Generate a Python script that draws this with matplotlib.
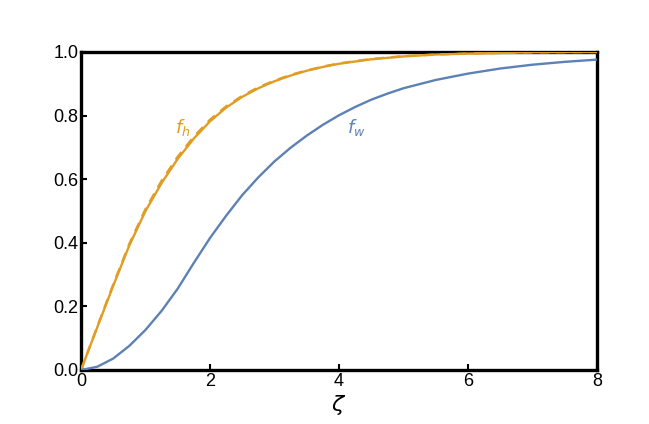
import matplotlib
matplotlib.use("Agg")
import matplotlib.pyplot as plt

# values
zeta_h = [0, 0.25, 0.5, 0.75, 1.0, 1.25, 1.5, 1.75, 2.0, 2.25, 2.5, 2.75, 3.0,
          3.25, 3.5, 3.75, 4.0, 4.5, 5.0, 5.5, 6.0, 7.0, 8.0]
f_h = [0, 0.133, 0.265, 0.392, 0.5, 0.588, 0.664, 0.728, 0.782, 0.825, 0.859, 0.886,
       0.908, 0.926, 0.941, 0.953, 0.963, 0.977, 0.986, 0.992, 0.995, 0.999, 1.0]
f_h_approx = [0, 0.135, 0.269, 0.397, 0.506, 0.595, 0.671, 0.734, 0.787, 0.829, 0.862,
              0.889, 0.910, 0.928, 0.942, 0.954, 0.964, 0.978, 0.987, 0.992, 0.995,
              0.999, 1.0]

zeta_w = [0, 0.25, 0.5, 0.75, 1.0, 1.25, 1.5, 1.75, 2.0, 2.25, 2.5, 2.75, 3.0,
          3.25, 3.5, 3.75, 4.0, 4.25, 4.5, 4.75, 5.0, 5.5, 6.0, 6.5, 7.0, 7.5, 8.0]
f_w = [0, 0.01, 0.036, 0.076, 0.126, 0.186, 0.256, 0.337, 0.415, 0.485, 0.55, 0.606,
       0.656, 0.699, 0.737, 0.771, 0.801, 0.827, 0.850, 0.869, 0.886, 0.912, 0.932,
       0.948, 0.960, 0.969, 0.976]

orange = "#E19C24"
blue = "#5E81B5"

plt.rcParams["font.family"] = ["Liberation Sans", "DejaVu Sans"]

fig = plt.figure(figsize=(6.49, 4.24), dpi=100)
ax = fig.add_axes([0.1248, 0.1274, 0.7951, 0.75])

ax.plot(zeta_h, f_h, color=orange, lw=1.7, zorder=3)
ax.plot(zeta_h, f_h_approx, color=orange, lw=1.7, ls=(0, (4, 3)), zorder=3)
ax.plot(zeta_w, f_w, color=blue, lw=1.7, zorder=3)

ax.text(1.45, 0.745, "$f_h$", color=orange, fontsize=13)
ax.text(4.12, 0.745, "$f_w$", color=blue, fontsize=13)

ax.set_xlim(0, 8)
ax.set_ylim(0, 1)
ax.set_xticks([0, 2, 4, 6, 8])
ax.set_yticks([0, 0.2, 0.4, 0.6, 0.8, 1.0])
ax.set_yticklabels(["0.0", "0.2", "0.4", "0.6", "0.8", "1.0"])
ax.tick_params(direction="in", length=4, width=1.5, labelsize=13, pad=2)
ax.set_xlabel(r"$\zeta$", fontsize=16, labelpad=2)

for s in ax.spines.values():
    s.set_linewidth(2.4)

fig.savefig("out.png", dpi=100)
